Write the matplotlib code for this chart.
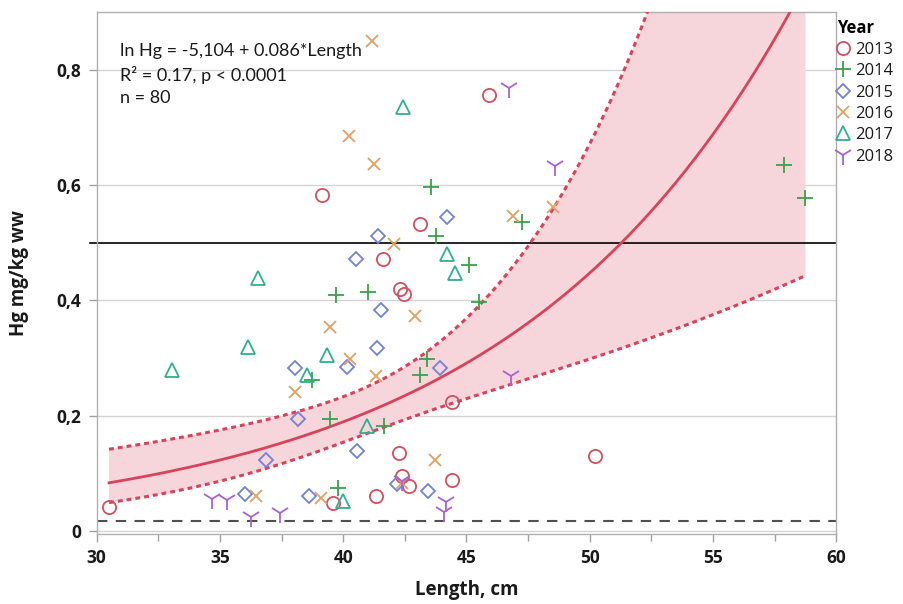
import numpy as np
import matplotlib
matplotlib.use("Agg")
import matplotlib.pyplot as plt
import matplotlib.transforms as mtransforms
from matplotlib.ticker import MultipleLocator, FuncFormatter

# ---- data: fish length (cm) and Hg (mg/kg ww) by sampling year ----
len_2013 = [30.5, 39.15, 41.6, 45.9, 43.1, 42.3, 42.45, 44.4, 42.25, 50.2, 42.4, 42.65, 44.4, 41.35, 39.6]
hg_2013 = [0.041, 0.582, 0.472, 0.757, 0.532, 0.419, 0.411, 0.223, 0.135, 0.131, 0.095, 0.078, 0.088, 0.060, 0.049]

len_2014 = [43.55, 43.75, 47.25, 57.9, 58.75, 45.1, 45.5, 39.7, 41.0, 43.4, 43.12, 38.75, 39.45, 41.65, 39.8]
hg_2014 = [0.597, 0.511, 0.536, 0.634, 0.578, 0.462, 0.397, 0.409, 0.414, 0.298, 0.271, 0.262, 0.194, 0.182, 0.075]

len_2015 = [41.4, 40.5, 44.22, 41.55, 41.36, 43.92, 38.04, 40.14, 38.16, 36.85, 40.54, 42.2, 43.43, 38.63, 36.0]
hg_2015 = [0.511, 0.471, 0.545, 0.384, 0.318, 0.283, 0.283, 0.285, 0.195, 0.123, 0.138, 0.081, 0.070, 0.061, 0.064]

len_2016 = [41.15, 40.23, 41.26, 42.05, 46.9, 48.5, 42.92, 41.33, 39.46, 40.27, 38.04, 43.72, 39.1, 36.48, 42.38]
hg_2016 = [0.849, 0.685, 0.637, 0.497, 0.546, 0.562, 0.373, 0.269, 0.354, 0.298, 0.242, 0.124, 0.057, 0.061, 0.083]

len_2017 = [42.44, 44.2, 44.52, 36.55, 36.14, 39.35, 38.55, 33.06, 40.95, 40.0]
hg_2017 = [0.736, 0.480, 0.448, 0.439, 0.320, 0.306, 0.271, 0.279, 0.182, 0.052]

len_2018 = [46.72, 48.6, 46.79, 42.4, 44.17, 44.1, 34.66, 35.28, 36.25, 37.45]
hg_2018 = [0.768, 0.633, 0.269, 0.087, 0.051, 0.033, 0.056, 0.054, 0.025, 0.032]

years = ["2013", "2014", "2015", "2016", "2017", "2018"]

# fitted model: ln Hg = a + b * Length
intercept = -5.104
slope = 0.086

# reference levels (mg/kg ww)
limit_level = 0.5
detect_level = 0.017

# ---- styling ----
year_style = {
    "2013": dict(marker="o", color="#d0505e", ms=9.5, filled=False),
    "2014": dict(marker="+", color="#3aa04c", ms=12, filled=True),
    "2015": dict(marker="D", color="#7282d4", ms=7.0, filled=False),
    "2016": dict(marker="x", color="#e2a062", ms=9, filled=True),
    "2017": dict(marker="^", color="#2fb08e", ms=10, filled=False),
    "2018": dict(marker="1", color="#a862d6", ms=14, filled=True),
}
series = {
    "2013": (len_2013, hg_2013),
    "2014": (len_2014, hg_2014),
    "2015": (len_2015, hg_2015),
    "2016": (len_2016, hg_2016),
    "2017": (len_2017, hg_2017),
    "2018": (len_2018, hg_2018),
}

tick_font = "Open Sans"
text_font = "Lato"

fig = plt.figure(figsize=(9.04, 6.04), dpi=100)
ax = fig.add_axes([0.107, 0.116, 0.818, 0.864])

# ---- 95% confidence band of the fitted mean, from the pooled data ----
all_len = np.concatenate([np.asarray(series[y][0]) for y in years])
all_hg = np.concatenate([np.asarray(series[y][1]) for y in years])
n = len(all_len)
resid = np.log(all_hg) - (intercept + slope * all_len)
s_res = np.sqrt(np.sum(resid ** 2) / (n - 2))
x_mean = all_len.mean()
sxx = np.sum((all_len - x_mean) ** 2)
t_crit = 1.9908

xs = np.linspace(all_len.min(), all_len.max(), 300)
ln_fit = intercept + slope * xs
half = t_crit * s_res * np.sqrt(1.0 / n + (xs - x_mean) ** 2 / sxx)
fit = np.exp(ln_fit)
lower = np.exp(ln_fit - half)
upper = np.exp(ln_fit + half)

band_red = "#d8435a"
ax.fill_between(xs, lower, upper, color="#f6d5db", lw=0, zorder=1)
ax.plot(xs, fit, color=band_red, lw=2.0, zorder=3)
ax.plot(xs, lower, color=band_red, lw=2.2, ls=(0, (1.6, 1.3)), zorder=3)
ax.plot(xs, upper, color=band_red, lw=2.2, ls=(0, (1.6, 1.3)), zorder=3)

# reference lines
ax.axhline(limit_level, color="black", lw=1.2, zorder=2)
ax.axhline(detect_level, color="#505050", lw=1.5, ls=(0, (5, 4)), zorder=2)
ytrans = mtransforms.blended_transform_factory(ax.transAxes, ax.transData)
ax.plot([-0.009, 0], [limit_level, limit_level], color="black", lw=1.2,
        transform=ytrans, clip_on=False)

# ---- points ----
handles = []
for y in years:
    st = year_style[y]
    xv, yv = series[y]
    if st["filled"]:
        h, = ax.plot(xv, yv, ls="none", marker=st["marker"], ms=st["ms"],
                     color=st["color"], mew=1.3, zorder=4, label=y)
    else:
        h, = ax.plot(xv, yv, ls="none", marker=st["marker"], ms=st["ms"],
                     markerfacecolor="none", markeredgecolor=st["color"],
                     mew=1.3, zorder=4, label=y)
    handles.append(h)

# ---- axes ----
ax.set_xlim(30, 60)
ax.set_ylim(-0.005, 0.9)
ax.xaxis.set_major_locator(MultipleLocator(5))
ax.xaxis.set_minor_locator(MultipleLocator(2.5))
ax.yaxis.set_major_locator(MultipleLocator(0.2))
ax.yaxis.set_major_formatter(FuncFormatter(lambda v, p: "0" if abs(v) < 1e-9 else f"{v:.1f}".replace(".", ",")))
ax.grid(axis="y", which="major", color="#d4d4d4", lw=1.0, zorder=0)
ax.set_axisbelow(True)

for sp in ax.spines.values():
    sp.set_color("#b0b0b0")
    sp.set_linewidth(1.0)

ax.tick_params(axis="both", which="both", direction="out", color="#a0a0a0", width=1.0)
ax.tick_params(axis="x", which="major", length=6, pad=5)
ax.tick_params(axis="x", which="minor", length=5)
ax.tick_params(axis="y", which="major", length=6, pad=5)
for lab in ax.get_xticklabels() + ax.get_yticklabels():
    lab.set_fontfamily(tick_font)
    lab.set_fontweight("bold")
    lab.set_fontsize(12.5)
    lab.set_color("#1a1a1a")

ax.set_xlabel("Length, cm", fontfamily=tick_font, fontweight="bold", fontsize=13.5, color="#1a1a1a", labelpad=9)
ax.set_ylabel("Hg mg/kg ww", fontfamily=tick_font, fontweight="bold", fontsize=13.5, color="#1a1a1a", labelpad=20)

# model summary
ax.text(0.031, 0.94, "ln Hg = -5,104 + 0.086*Length\nR\u00b2 = 0.17, p < 0.0001\nn = 80",
        transform=ax.transAxes, ha="left", va="top", fontfamily=text_font,
        fontsize=13, color="#1a1a1a", linespacing=1.45, zorder=5)

leg = ax.legend(handles=handles, title="Year", loc="upper left", bbox_to_anchor=(0.997, 0.994),
                frameon=False, prop={"family": tick_font, "size": 12}, handlelength=0.7,
                handletextpad=0.35, labelspacing=0.32, borderaxespad=0.0, borderpad=0.2,
                alignment="left")
leg.get_title().set_fontfamily(tick_font)
leg.get_title().set_fontweight("bold")
leg.get_title().set_fontsize(12)
for t in leg.get_texts():
    t.set_color("#1a1a1a")

fig.savefig("out.png", dpi=100)
